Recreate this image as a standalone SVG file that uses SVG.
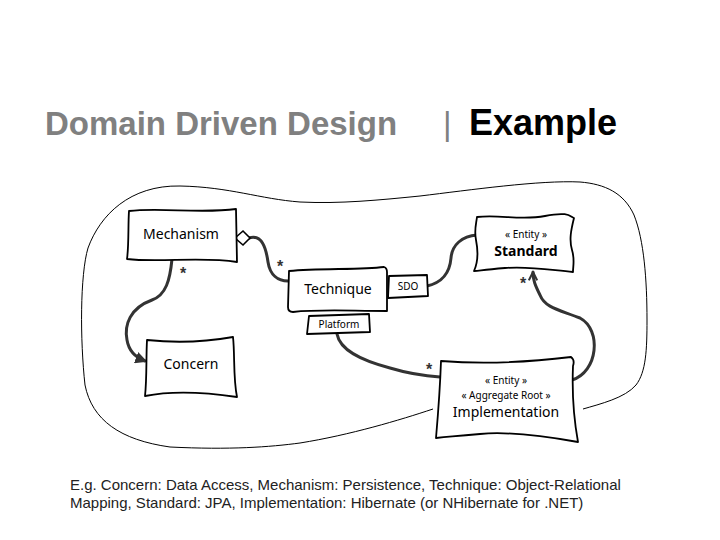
<svg xmlns="http://www.w3.org/2000/svg" width="720" height="540" viewBox="0 0 720 540">
<style>
.box{fill:#fff;stroke:#000;stroke-width:1.8;stroke-linejoin:round}
.lbl{font-family:"Noto Sans","DejaVu Sans",sans-serif;font-size:14px;fill:#000;text-anchor:middle}
.small{font-family:"Noto Sans","DejaVu Sans",sans-serif;font-size:10px;fill:#000;text-anchor:middle}
.conn{fill:none;stroke:#333;stroke-width:3;stroke-linecap:round}
.star{font-family:"Liberation Sans",sans-serif;font-size:16px;font-weight:bold;fill:#333;text-anchor:middle}
.cap{font-family:"Liberation Sans","Arial",sans-serif;font-size:15px;fill:#222}
</style>
<defs>
<marker id="fill" viewBox="0 0 10 10" refX="8" refY="5" markerWidth="4" markerHeight="4" orient="auto" markerUnits="strokeWidth">
<path d="M0,0 L10,5 L0,10 z" fill="#333"/>
</marker>
<marker id="open" viewBox="0 0 10 10" refX="9" refY="5" markerWidth="3.5" markerHeight="3.5" orient="auto" markerUnits="strokeWidth">
<path d="M1,1 L9,5 L1,9" fill="none" stroke="#333" stroke-width="2"/>
</marker>
</defs>
<rect width="720" height="540" fill="#fff"/>
<text x="45" y="135" font-family="'Liberation Sans',Arial,sans-serif" font-weight="bold" font-size="33" fill="#808080">Domain Driven Design</text>
<text x="443" y="135" font-family="'Liberation Sans',Arial,sans-serif" font-size="33" fill="#808080">|</text>
<text x="469" y="135" font-family="'Liberation Sans',Arial,sans-serif" font-weight="bold" font-size="36" fill="#000">Example</text>
<g id="boundary">
<path d="M583,409 C600,404 625,398 636,385 C646,372 647,350 647,320 C647,280 644,240 634,215 C624,193 605,184 580,182 C540,180 470,190 420,196 C380,200 340,204 300,202 C260,199 230,187 180,186 C130,185 100,215 88,248 C80,275 80,340 85,385 C92,420 120,440 170,447 C230,450 270,447 300,443 C350,435 400,420 433,409" fill="none" stroke="#000" stroke-width="1"/>
</g>
<g id="connectors">
<path class="conn" d="M249,238 C262,234 266,248 268,262 C270,275 278,281 288,281"/>
<path class="conn" d="M172,259 C170,280 166,295 152,300 C130,308 124,325 127,340 C129,352 137,358 145,361" marker-end="url(#fill)"/>
<path class="conn" d="M427,286 C445,282 450,270 451,258 C452,245 462,236 477,235"/>
<path class="conn" d="M572,380 C598,372 602,330 580,318 C560,310 545,308 540,295 C535,285 533,280 533,272" marker-end="url(#open)"/>
<path class="conn" d="M337,334 C340,350 360,360 390,368 C410,374 425,376 440,377"/>
<polygon points="235,238 243,231 250,238 243,245" fill="#fff" stroke="#000" stroke-width="1.6"/>
<text class="star" x="183" y="279">*</text>
<text class="star" x="280" y="272">*</text>
<text class="star" x="523" y="289">*</text>
<text class="star" x="429" y="375">*</text>
</g>
<g id="mechanism">
<path class="box" d="M129,211 C160,207 200,214 236,209 L237,262 C200,256 160,263 127,259 C129,245 128,225 129,211 Z"/>
<text class="lbl" x="181" y="239">Mechanism</text>
</g>
<g id="technique">
<path class="box" d="M289,271 C320,268 360,270 384,267 Q387,268 387,272 L387,311 C350,311 320,309 293,312 Q288,312 288,307 Z"/>
<text class="lbl" x="338" y="294">Technique</text>
</g>
<g id="sdo">
<path class="box" d="M389,276 L427,275 L428,296 L388,298 Z" stroke-width="1.4"/>
<text class="small" x="408" y="290">SDO</text>
</g>
<g id="standard">
<path class="box" d="M477,217 C500,214 520,221 545,216 S570,217 574,218 C571,230 569,240 572,250 S573,265 573,272 C550,270 530,266 505,268 S480,271 474,271 C479,260 478,250 476,240 S476,225 477,217 Z"/>
<text class="small" x="526" y="238">« Entity »</text>
<text class="lbl" x="526" y="256" font-weight="bold" font-size="15">Standard</text>
</g>
<g id="platform">
<path class="box" d="M309,316 L369,314 L370,332 L307,334 Z" stroke-width="1.4"/>
<text class="small" x="339" y="328">Platform</text>
</g>
<g id="concern">
<path class="box" d="M147,340 C175,343 205,342 233,337 C235,355 233,378 237,397 C210,393 175,390 145,396 C147,378 146,358 147,340 Z"/>
<text class="lbl" x="191" y="369">Concern</text>
</g>
<g id="implementation">
<path class="box" d="M441,361 C480,364 530,362 571,357 Q575,360 573,366 C572,390 574,420 578,442 C550,437 510,431 480,434 S450,436 436,438 C438,415 440,390 441,361 Z"/>
<text class="small" x="506" y="384">« Entity »</text>
<text class="small" x="506" y="399">« Aggregate Root »</text>
<text class="lbl" x="506" y="417" font-size="15.5">Implementation</text>
</g>
<text class="cap" x="70" y="490">E.g. Concern: Data Access, Mechanism: Persistence, Technique: Object-Relational</text>
<text class="cap" x="70" y="508">Mapping, Standard: JPA, Implementation: Hibernate (or NHibernate for .NET)</text>
</svg>
